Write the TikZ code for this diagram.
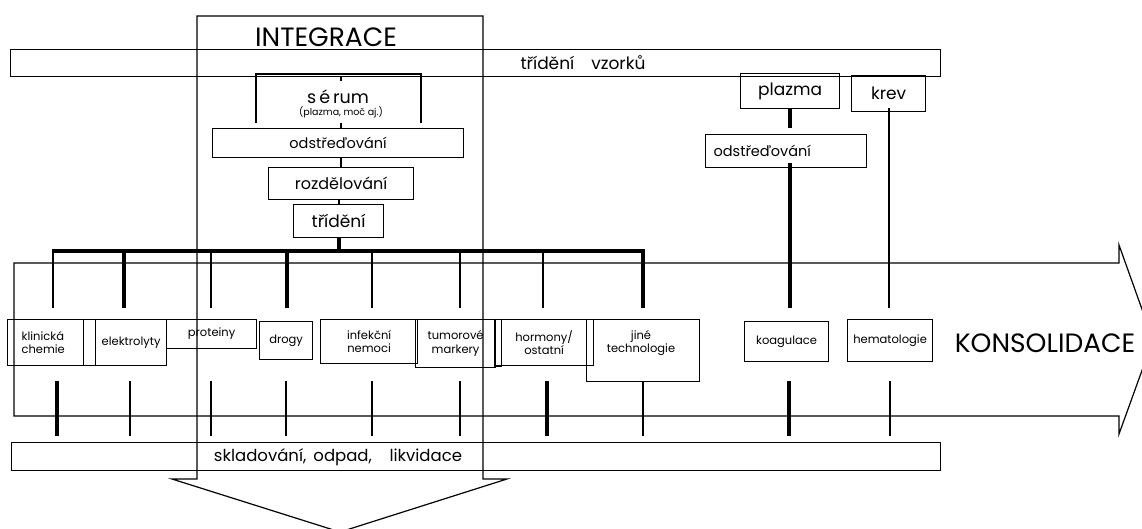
\documentclass[tikz,border=0pt]{standalone}
\usepackage{fontspec}
\setmainfont{Poppins}
\usepackage{tikz}
\tikzset{
  box/.style ={rectangle,draw,line width=1.2pt,inner sep=0pt,font=\fontsize{16}{18}\selectfont},
  kat/.style ={rectangle,draw,line width=1.2pt,inner sep=0pt,align=center,font=\fontsize{11.5}{13.5}\selectfont},
  txt/.style ={inner sep=0pt,font=\fontsize{16.5}{18}\selectfont},
  big/.style ={inner sep=0pt,font=\fontsize{26.5}{30}\selectfont},
  outl/.style={line width=1.2pt,line join=miter},
  thn/.style ={line width=1.8pt},
  thk/.style ={line width=4pt},
}
\begin{document}
\begin{tikzpicture}[x=1pt,y=-1pt]
  \useasboundingbox (0,0) rectangle (1142,529);
  % integrace (down arrow) and konsolidace (right arrow)
  \draw[outl] (197,16) -- (483,16) -- (483,479) -- (507,479) -- (340,532)
    -- (172,479) -- (197,479) -- cycle;
  \draw[outl] (14,263) -- (1119,263) -- (1119,245) -- (1153,340) -- (1119,434)
    -- (1119,416) -- (14,416) -- cycle;
  \node[big] (integ) at (326,37) {INTEGRACE};
  \node[big] (kons) at (1045,343) {KONSOLIDACE};

  % top bar
  \node[box,minimum width=930,minimum height=27,anchor=north west] (tv) at (10,49) {};
  \node[txt,font=\fontsize{17}{18}\selectfont] (tvt) at (583,63) {třídění\hspace{1em}vzorků};

  % serum column
  \draw[outl] (256,123) |- (421,74) -- (421,123);
  \node[txt,font=\fontsize{17.5}{18}\selectfont] (ser) at (338,97) {s\,é\,rum};
  \node[inner sep=0pt,font=\fontsize{9.5}{10}\selectfont] (serp) at (341,112) {(plazma, moč aj.)};
  \node[box,font=\fontsize{14.5}{16}\selectfont,minimum width=251,minimum height=29,anchor=north west] (od) at (212,128) {odstřeďování};
  \node[box,minimum width=145,minimum height=32,anchor=north west] (rz) at (268,167) {rozdělování};
  \node[box,font=\fontsize{17}{18}\selectfont,minimum width=90,minimum height=33,anchor=north west] (tr) at (293,204) {třídění};
  \coordinate (s1) at (341,81);
  \coordinate (s2) at (341,123);
  \draw[thn] (tv.south -| s1) -- (s1);
  \draw[thn] (s2) -- (s2 |- od.north);
  \draw[thn] (rz.north) -- (rz.north |- od.south);
  \draw[thn] (tr.north) -- (tr.north |- rz.south);

  % plazma / krev
  \node[box,font=\fontsize{17}{18}\selectfont,minimum width=99,minimum height=35,anchor=north west] (pl) at (740,73) {plazma};
  \node[box,font=\fontsize{17}{18}\selectfont,minimum width=74,minimum height=36,anchor=north west] (kr) at (851,75) {krev};
  \node[box,font=\fontsize{14.5}{16}\selectfont,text width=145,inner xsep=8pt,minimum height=33,align=left,anchor=north west] (od2) at (705,134) {odstřeďování};

  % distribution bar
  \coordinate (bl) at (52,251);
  \coordinate (br) at (645,251);
  \coordinate (dn) at (0,308);
  \coordinate (up) at (0,381);
  \coordinate (lo) at (0,436);
  \draw[line width=4.5pt] (bl) -- (br);
  \draw[thk] (tr.south) -- (tr.south |- bl);
  \foreach \x/\s in {53/thn,124/thk,211/thn,287/thk,372/thn,460/thn,543/thn,643/thk}
    \draw[\s] (\x,0 |- bl) -- (\x,0 |- dn);
  \draw[thk] (pl.south) -- ([yshift=6]pl.south |- od2.north);
  \draw[thk] ([yshift=5]od2.south -| pl.south) -- (pl.south |- dn);
  \draw[thn] ([yshift=4]kr.south) -- (kr.south |- dn);

  % laboratories
  \node[kat,text width=48,align=left,minimum width=76,minimum height=46,anchor=north west] (kc) at (7,319) {klinická\\chemie};
  \node[kat,minimum width=12,minimum height=46,anchor=north west] (n1) at (83,319) {};
  \node[kat,minimum width=71,minimum height=46,anchor=north west] (el) at (95,319) {elektrolyty};
  \node[kat,minimum width=90,minimum height=29,anchor=north west] (pr) at (166,319) {proteiny};
  \node[kat,minimum width=53,minimum height=38,anchor=north west] (dr) at (259,321) {drogy};
  \node[kat,minimum width=97,minimum height=44,anchor=north west] (inf) at (320,319) {infekční\\nemoci};
  \node[kat,minimum width=80,minimum height=48,anchor=north west] (tu) at (415,319) {tumorové\\markery};
  \node[kat,minimum width=99,minimum height=46,anchor=north west] (ho) at (494,319) {hormony/\\ostatní};
  \node[kat,minimum width=7,minimum height=47,anchor=north west] (n2) at (494,319) {};
  \node[kat,minimum width=7,minimum height=46,anchor=north west] (n3) at (586,319) {};
  \node[kat,minimum width=113,minimum height=62,anchor=north west] (jt) at (586,319) {};
  \node[inner sep=0pt,align=center,font=\fontsize{11.5}{13.5}\selectfont] (jtt) at (641,343) {jiné\\technologie};
  \node[kat,minimum width=84,minimum height=40,anchor=north west] (ko) at (744,321) {koagulace};
  \node[kat,minimum width=85,minimum height=42,anchor=north west] (he) at (847,319) {hematologie};

  \foreach \x/\s in {57/thk,130/thn,211/thn,286/thn,372/thn,460/thn,547/thk,643/thn,789/thk,890/thn}
    \draw[\s] (\x,0 |- up) -- (\x,0 |- lo);

  % bottom bar
  \node[box,minimum width=929,minimum height=28,anchor=north west] (sk) at (11,442) {};
  \node[txt] (skt) at (338,457) {skladování,\, odpad,\hspace{0.8em} likvidace};
\end{tikzpicture}
\end{document}
